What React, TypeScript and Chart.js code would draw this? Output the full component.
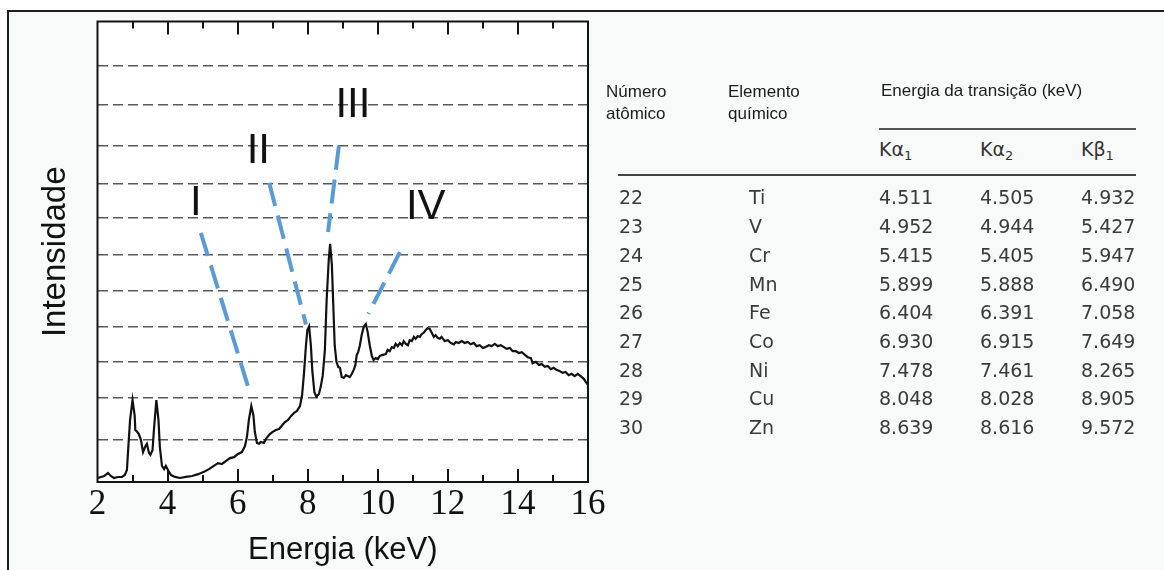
import React, { useEffect, useRef } from 'react';
import { Chart, registerables } from 'chart.js';

Chart.register(...registerables);

// ---- Spectrum (energy in keV, intensity in arbitrary units) ----
const energyKeV = [
  2.01, 2.19, 2.30, 2.38, 2.47, 2.58, 2.70, 2.78, 2.84, 2.88,
  2.93, 3.00, 3.06, 3.08, 3.13, 3.18, 3.24, 3.30, 3.37, 3.41,
  3.47, 3.51, 3.57, 3.61, 3.68, 3.74, 3.78, 3.84, 3.90, 3.95,
  4.01, 4.10, 4.21, 4.35, 4.52, 4.70, 4.87, 5.04, 5.18, 5.32,
  5.44, 5.55, 5.67, 5.78, 5.90, 6.01, 6.12, 6.21, 6.27, 6.32,
  6.39, 6.45, 6.49, 6.55, 6.61, 6.66, 6.75, 6.83, 6.92, 7.00,
  7.09, 7.18, 7.26, 7.35, 7.44, 7.52, 7.61, 7.69, 7.78, 7.84,
  7.89, 7.95, 7.99, 8.04, 8.09, 8.13, 8.19, 8.25, 8.32, 8.37,
  8.43, 8.49, 8.54, 8.60, 8.64, 8.69, 8.73, 8.77, 8.82, 8.87,
  8.92, 8.97, 9.03, 9.09, 9.14, 9.20, 9.26, 9.31, 9.36, 9.40,
  9.44, 9.49, 9.54, 9.60, 9.66, 9.71, 9.77, 9.83, 9.88, 9.94,
  10.00, 10.06, 10.14, 10.23, 10.28, 10.34, 10.40, 10.46, 10.51, 10.57,
  10.63, 10.69, 10.74, 10.80, 10.86, 10.91, 10.97, 11.03, 11.08, 11.14,
  11.20, 11.25, 11.31, 11.37, 11.42, 11.48, 11.54, 11.60, 11.65, 11.71,
  11.77, 11.82, 11.91, 12.00, 12.08, 12.17, 12.23, 12.31, 12.40, 12.48,
  12.57, 12.65, 12.74, 12.82, 12.91, 13.00, 13.08, 13.17, 13.25, 13.34,
  13.42, 13.51, 13.60, 13.68, 13.77, 13.85, 13.94, 14.03, 14.11, 14.20,
  14.28, 14.37, 14.42, 14.51, 14.60, 14.68, 14.77, 14.85, 14.94, 15.02,
  15.11, 15.19, 15.28, 15.36, 15.45, 15.53, 15.62, 15.71, 15.79, 15.88,
  15.94, 16.00,
];

const intensity = [
  0.87, 1.30, 1.95, 1.30, 0.87, 1.09, 1.09, 1.52, 2.61, 7.6,
  13.5, 17.8, 14.5, 11.3, 10.9, 10.4, 9.1, 6.5, 7.8, 8.3,
  6.3, 5.9, 6.9, 11.3, 17.8, 13.5, 7.6, 3.5, 2.8, 3.5,
  2.6, 1.5, 1.1, 0.87, 1.1, 1.3, 1.7, 2.2, 2.8, 3.5,
  4.1, 3.9, 4.6, 5.2, 5.4, 6.1, 6.5, 7.8, 10.0, 13.5,
  16.5, 14.5, 10.9, 8.5, 8.3, 8.7, 8.5, 9.6, 10.4, 10.9,
  11.3, 11.5, 12.2, 13.0, 13.5, 14.3, 15.0, 15.4, 16.5, 18.9,
  23.2, 29.7, 33.0, 33.8, 29.7, 24.3, 19.5, 18.5, 19.1, 20.6,
  23.2, 28.7, 39.5, 48.2, 51.7, 47.1, 38.4, 29.7, 26.1, 25.0,
  24.8, 22.8, 22.6, 23.2, 23.0, 22.8, 23.5, 24.3, 25.4, 27.6,
  28.2, 29.7, 31.9, 33.7, 34.3, 32.6, 29.7, 27.4, 26.5, 26.9,
  26.7, 27.4, 27.6, 27.8, 28.7, 28.4, 29.3, 29.1, 30.0, 29.5,
  30.2, 29.7, 30.6, 30.0, 29.7, 30.8, 30.6, 31.5, 31.1, 31.7,
  31.5, 32.1, 32.4, 33.0, 33.4, 33.3, 32.4, 31.5, 31.9, 31.3,
  31.1, 31.5, 30.6, 30.8, 30.2, 29.9, 30.4, 30.2, 30.6, 30.2,
  30.4, 29.9, 30.2, 29.5, 29.7, 29.1, 29.3, 29.7, 29.5, 30.0,
  29.5, 29.7, 29.3, 28.9, 29.1, 28.4, 28.4, 28.0, 28.2, 27.6,
  27.1, 26.9, 25.8, 26.1, 25.4, 25.6, 25.0, 25.2, 24.5, 24.8,
  24.3, 24.1, 23.7, 23.9, 23.2, 23.5, 23.0, 23.5, 23.0, 22.4,
  21.7, 21.1,
];

// Horizontal dashed reference lines (intensity levels)
const gridLevels = [9.2, 18.3, 26.2, 33.8, 41.6, 49.4, 57.3, 64.8, 73.1, 82.0, 90.4];

// Axis range
const xMin = 2;
const xMax = 16;
const xStep = 2;

// Peak guides I..IV
const guideNames = ['I', 'II', 'III', 'IV'];
const guideTopX = [4.95, 6.90, 8.89, 10.63];
const guideTopY = [54.1, 65.0, 73.0, 49.9];
const guideEndX = [6.37, 7.95, 8.58, 9.73];
const guideEndY = [18.9, 34.2, 54.3, 36.5];
const guideLabelX = [4.81, 6.59, 9.29, 11.37];
const guideLabelY = [60.6, 71.8, 81.8, 59.7];

// ---- Table ----
const atomicNumbers = [22, 23, 24, 25, 26, 27, 28, 29, 30];
const elementSymbols = ['Ti', 'V', 'Cr', 'Mn', 'Fe', 'Co', 'Ni', 'Cu', 'Zn'];
const kAlpha1 = [4.511, 4.952, 5.415, 5.899, 6.404, 6.930, 7.478, 8.048, 8.639];
const kAlpha2 = [4.505, 4.944, 5.405, 5.888, 6.391, 6.915, 7.461, 8.028, 8.616];
const kBeta1 = [4.932, 5.427, 5.947, 6.490, 7.058, 7.649, 8.265, 8.905, 9.572];

const decorPlugin = {
  id: 'decor',
  beforeDraw(chart: any) {
    const { ctx, chartArea: a } = chart;
    ctx.save();
    ctx.fillStyle = '#ffffff';
    ctx.fillRect(a.left, a.top, a.right - a.left, a.bottom - a.top);
    ctx.restore();
  },
  afterDraw(chart: any) {
    const { ctx, chartArea: a, scales } = chart;
    const xs = scales.x;
    const ys = scales.y;
    ctx.save();
    ctx.setLineDash([]);
    ctx.strokeStyle = '#141414';
    ctx.lineWidth = 2;
    ctx.strokeRect(a.left, a.top, a.right - a.left, a.bottom - a.top);
    for (let v = Math.ceil(xs.min) + 1; v < xs.max; v++) {
      const px = Math.round(xs.getPixelForValue(v));
      const len = v % 2 === 0 ? 13 : 7;
      ctx.beginPath();
      ctx.moveTo(px, a.bottom);
      ctx.lineTo(px, a.bottom - len);
      ctx.moveTo(px, a.top);
      ctx.lineTo(px, a.top + len);
      ctx.stroke();
    }
    ctx.fillStyle = '#111111';
    ctx.font = '42px "Liberation Sans", Arial, sans-serif';
    ctx.textAlign = 'center';
    ctx.textBaseline = 'middle';
    guideNames.forEach((name, i) => {
      ctx.fillText(name, xs.getPixelForValue(guideLabelX[i]), ys.getPixelForValue(guideLabelY[i]));
    });
    ctx.restore();
  },
};

function SpectrumChart() {
  const ref = useRef<HTMLCanvasElement | null>(null);
  useEffect(() => {
    if (!ref.current) return;
    const spectrum = energyKeV.map((x, i) => ({ x, y: intensity[i] }));
    const guides = guideNames.map((name, i) => ({
      label: name,
      data: [
        { x: guideTopX[i], y: guideTopY[i] },
        { x: guideEndX[i], y: guideEndY[i] },
      ],
      borderColor: '#5b9bd5',
      borderWidth: 4,
      borderDash: [24, 10],
      pointRadius: 0,
      fill: false,
    }));
    const chart = new Chart(ref.current, {
      type: 'line',
      data: {
        datasets: [
          {
            label: 'Espectro',
            data: spectrum,
            borderColor: '#111111',
            borderWidth: 2.2,
            pointRadius: 0,
            tension: 0,
            fill: false,
          },
          ...guides,
        ],
      },
      options: {
        animation: false,
        responsive: false,
        devicePixelRatio: 1,
        layout: { padding: { top: 21.5, right: 32, left: 0, bottom: 0 } },
        plugins: { legend: { display: false }, tooltip: { enabled: false } },
        scales: {
          x: {
            type: 'linear',
            min: xMin,
            max: xMax,
            ticks: {
              stepSize: xStep,
              padding: 2,
              color: '#111111',
              font: { family: '"Liberation Serif", "Times New Roman", serif', size: 35 },
              maxRotation: 0,
            },
            grid: { display: false, drawTicks: false },
            border: { display: false },
            title: {
              display: true,
              text: 'Energia (keV)',
              color: '#111111',
              font: { family: '"Liberation Sans", Arial, sans-serif', size: 31 },
              padding: { top: 0, bottom: 1 },
            },
            afterFit: (s: any) => {
              s.height = 88;
              s.paddingLeft = 0;
              s.paddingRight = 0;
            },
          },
          y: {
            type: 'linear',
            min: 0,
            max: 100,
            afterBuildTicks: (s: any) => {
              s.ticks = gridLevels.map((v) => ({ value: v }));
            },
            ticks: { display: false },
            grid: { color: '#5a5a5a', lineWidth: 1.5, drawTicks: false },
            border: { display: false, dash: [10, 5] },
            title: {
              display: true,
              text: 'Intensidade',
              color: '#111111',
              font: { family: '"Liberation Sans", Arial, sans-serif', size: 33 },
              padding: { top: 36, bottom: 0 },
            },
            afterFit: (s: any) => {
              s.width = 97.5;
            },
          },
        },
      },
      plugins: [decorPlugin],
    });
    return () => chart.destroy();
  }, []);
  return (
    <canvas
      ref={ref}
      width={620}
      height={570}
      style={{ position: 'absolute', left: 0, top: 0, width: 620, height: 570 }}
    />
  );
}

const headStyle: React.CSSProperties = {
  position: 'absolute',
  fontFamily: '"Liberation Sans", Arial, sans-serif',
  fontSize: 17,
  lineHeight: '21.5px',
  color: '#1c1c1c',
  whiteSpace: 'nowrap',
};

const cellStyle: React.CSSProperties = {
  position: 'absolute',
  fontFamily: '"DejaVu Sans", sans-serif',
  fontSize: 19,
  lineHeight: '22px',
  color: '#3a3a3a',
  whiteSpace: 'nowrap',
};

function KLabel({ sym, sub, left }: { sym: string; sub: string; left: number }) {
  return (
    <div style={{ ...cellStyle, left, top: 138, fontSize: 19, color: '#333' }}>
      K{sym}
      <span style={{ fontSize: 13, position: 'relative', top: 4 }}>{sub}</span>
    </div>
  );
}

function TransitionTable() {
  const rowTop = (i: number) => 197.4 + 28.7 * i - 11;
  return (
    <>
      <div style={{ ...headStyle, left: 606, top: 81 }}>
        Número
        <br />
        atômico
      </div>
      <div style={{ ...headStyle, left: 728, top: 81 }}>
        Elemento
        <br />
        químico
      </div>
      <div style={{ ...headStyle, left: 881, top: 80 }}>Energia da transição (keV)</div>
      <div style={{ position: 'absolute', left: 879, top: 128, width: 257, height: 1.5, background: '#555' }} />
      <KLabel sym="α" sub="1" left={879} />
      <KLabel sym="α" sub="2" left={980} />
      <KLabel sym="β" sub="1" left={1081} />
      <div style={{ position: 'absolute', left: 618, top: 174, width: 518, height: 2, background: '#444' }} />
      {atomicNumbers.map((n, i) => (
        <React.Fragment key={n}>
          <div style={{ ...cellStyle, left: 619, top: rowTop(i) }}>{n}</div>
          <div style={{ ...cellStyle, left: 749, top: rowTop(i) }}>{elementSymbols[i]}</div>
          <div style={{ ...cellStyle, left: 879, top: rowTop(i) }}>{kAlpha1[i].toFixed(3)}</div>
          <div style={{ ...cellStyle, left: 980, top: rowTop(i) }}>{kAlpha2[i].toFixed(3)}</div>
          <div style={{ ...cellStyle, left: 1081, top: rowTop(i) }}>{kBeta1[i].toFixed(3)}</div>
        </React.Fragment>
      ))}
    </>
  );
}

export default function App() {
  return (
    <div
      style={{
        position: 'absolute',
        left: 0,
        top: 0,
        width: 1164,
        height: 570,
        overflow: 'hidden',
        background: '#ffffff',
      }}
    >
      <div
        style={{
          position: 'absolute',
          left: 7,
          top: 10,
          width: 1180,
          height: 600,
          borderTop: '2px solid #1e1e1e',
          borderLeft: '2px solid #1e1e1e',
          background: '#f8f9f9',
        }}
      />
      <SpectrumChart />
      <TransitionTable />
    </div>
  );
}
